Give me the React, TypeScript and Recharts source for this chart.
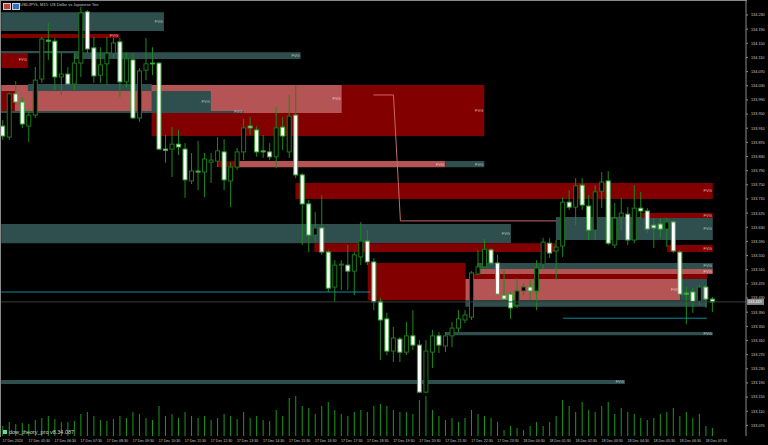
import React from 'react';
import { ComposedChart, Bar, XAxis, YAxis, ReferenceArea, ReferenceLine } from 'recharts';

const opens = [133.916,133.885,134.007,133.984,133.916,133.947,134.049,134.159,134.156,134.055,134.063,134.035,134.094,134.239,134.137,134.060,134.092,134.122,134.154,134.041,134.103,133.939,134.074,134.094,134.094,133.851,133.851,133.865,133.851,133.761,133.789,133.786,133.814,133.817,133.843,133.761,133.800,133.843,133.916,133.905,133.846,133.843,133.829,133.913,133.843,133.947,133.778,133.696,133.608,133.628,133.560,133.461,133.523,133.523,133.506,133.546,133.591,133.532,133.421,133.371,133.280,133.314,133.277,133.323,133.297,133.164,133.277,133.323,133.294,133.323,133.345,133.368,133.376,133.498,133.518,133.566,133.529,133.438,133.441,133.410,133.450,133.461,133.450,133.526,133.585,133.563,133.577,133.701,133.687,133.749,133.690,133.622,133.732,133.761,133.580,133.659,133.667,133.594,133.684,133.676,133.636,133.639,133.625,133.645,133.560,133.444,133.447,133.421,133.461,133.427];
const highs = [133.933,134.010,134.043,133.998,133.961,134.083,134.168,134.207,134.165,134.125,134.083,134.122,134.253,134.244,134.168,134.139,134.168,134.165,134.165,134.125,134.122,134.080,134.165,134.139,134.097,133.891,133.913,133.905,133.868,133.840,133.874,133.840,133.840,133.885,133.879,133.814,133.854,133.936,133.942,133.916,133.891,133.868,133.970,133.942,134.004,134.032,133.783,133.707,133.673,133.721,133.566,133.537,133.537,133.580,133.560,133.645,133.622,133.543,133.430,133.388,133.348,133.320,133.362,133.396,133.311,133.311,133.340,133.334,133.334,133.362,133.396,133.396,133.506,133.566,133.597,133.571,133.552,133.509,133.447,133.486,133.472,133.481,133.537,133.600,133.600,133.594,133.715,133.735,133.769,133.769,133.721,133.749,133.786,133.789,133.699,133.713,133.687,133.749,133.730,133.684,133.656,133.656,133.656,133.650,133.566,133.461,133.458,133.467,133.467,133.433];
const lows = [133.877,133.877,133.976,133.911,133.871,133.939,134.038,134.103,134.018,134.004,134.032,134.018,134.055,134.122,134.038,134.038,134.032,134.108,133.998,134.024,133.936,133.928,134.046,134.060,133.848,133.812,133.772,133.834,133.713,133.752,133.735,133.715,133.755,133.800,133.735,133.687,133.792,133.820,133.891,133.829,133.826,133.820,133.797,133.848,133.826,133.769,133.580,133.560,133.588,133.552,133.447,133.419,133.453,133.453,133.438,133.523,133.523,133.396,133.255,133.269,133.249,133.249,133.269,133.283,133.161,133.161,133.232,133.274,133.277,133.291,133.334,133.359,133.368,133.495,133.515,133.523,133.438,133.424,133.371,133.402,133.438,133.424,133.396,133.509,133.543,133.481,133.546,133.679,133.636,133.679,133.594,133.594,133.684,133.580,133.571,133.622,133.580,133.585,133.656,133.614,133.571,133.600,133.574,133.557,133.438,133.356,133.388,133.410,133.402,133.390];
const closes = [133.888,134.007,133.984,133.922,133.947,134.046,134.162,134.156,134.055,134.063,134.035,134.094,134.236,134.134,134.058,134.089,134.122,134.151,134.041,134.106,133.939,134.072,134.092,134.092,133.851,133.847,133.865,133.857,133.764,133.789,133.786,133.823,133.820,133.846,133.764,133.800,133.843,133.911,133.911,133.843,133.843,133.829,133.911,133.888,133.944,133.778,133.696,133.608,133.628,133.560,133.458,133.523,133.526,133.506,133.552,133.591,133.532,133.419,133.368,133.280,133.317,133.277,133.323,133.297,133.164,133.280,133.323,133.297,133.323,133.345,133.371,133.382,133.501,133.518,133.568,133.529,133.441,133.427,133.402,133.450,133.461,133.450,133.515,133.588,133.557,133.574,133.701,133.687,133.747,133.693,133.622,133.730,133.758,133.585,133.656,133.670,133.594,133.684,133.676,133.625,133.628,133.625,133.645,133.563,133.441,133.441,133.421,133.461,133.427,133.419];
const volumes = [1000,1400,1200,1300,1200,1600,1800,2000,1700,1400,1400,1500,2200,2400,2000,1600,1500,1700,2000,1800,2400,2200,1800,1600,3000,2000,2200,1800,2400,2000,1800,2000,1600,1800,2200,2000,1700,2400,1800,2000,1600,1500,2600,2000,3800,4000,3000,2800,2200,3000,3400,2600,2200,2000,2400,2600,2400,3000,3200,3000,2600,2400,2400,2200,3600,4000,2600,2000,1600,1800,1400,1800,2600,2200,2000,1800,1400,600,1000,800,600,1000,1400,1000,1400,2000,3600,3000,2400,3400,2600,2400,3000,3400,2200,2800,2400,2200,1800,1600,1800,2200,2400,2800,2000,2400,1800,2200,1000,800];

const timeLabels = ['17 Dec 2024','17 Dec 05:30','17 Dec 06:30','17 Dec 07:30','17 Dec 08:30','17 Dec 09:30','17 Dec 10:30','17 Dec 11:30','17 Dec 12:30','17 Dec 13:30','17 Dec 14:30','17 Dec 15:30','17 Dec 16:30','17 Dec 17:30','17 Dec 18:30','17 Dec 19:30','17 Dec 20:30','17 Dec 21:30','17 Dec 22:30','17 Dec 23:30','18 Dec 00:30','18 Dec 01:30','18 Dec 02:30','18 Dec 03:30','18 Dec 04:30','18 Dec 05:30','18 Dec 06:30','18 Dec 07:30'];
const timeTickIndex = [1,5,9,13,17,21,25,29,33,37,41,45,49,53,57,61,65,69,73,77,81,85,89,93,97,101,105,109];
const priceTicks = [134.23,134.19,134.15,134.11,134.07,134.03,133.99,133.95,133.91,133.87,133.83,133.79,133.75,133.71,133.67,133.63,133.59,133.55,133.51,133.47,133.43,133.39,133.35,133.31,133.27,133.23,133.19,133.15,133.11,133.07];

// [fromIndex, toIndex, low, high, kind, showLabel]
const zones: [number, number, number, number, string, boolean][] = [
  [0.8, 25.8, 134.185, 134.238, 'teal', true],
  [0.8, 18.9, 134.165, 134.176, 'red', true],
  [0.8, 4.9, 134.080, 134.128, 'red', true],
  [0.8, 12.9, 134.122, 134.128, 'teal', false],
  [11.97, 46.8, 134.106, 134.125, 'teal', true],
  [23.9, 75.0, 133.888, 134.032, 'red', true],
  [0.8, 53.1, 133.953, 134.032, 'pink', true],
  [0.8, 2.9, 133.959, 134.015, 'red', false],
  [4.9, 23.9, 134.015, 134.035, 'teal', false],
  [23.9, 33.0, 133.956, 134.015, 'teal', true],
  [0.8, 38.0, 133.953, 133.959, 'teal', true],
  [34.0, 37.3, 133.800, 133.817, 'red', false],
  [37.3, 69.0, 133.800, 133.817, 'pink', true],
  [69.0, 75.0, 133.800, 133.817, 'teal', true],
  [46.0, 110.1, 133.710, 133.755, 'red', true],
  [0.8, 79.1, 133.585, 133.639, 'teal', true],
  [48.9, 86.0, 133.560, 133.585, 'red', false],
  [103.1, 110.1, 133.560, 133.580, 'red', true],
  [86.0, 110.1, 133.594, 133.659, 'teal', true],
  [99.1, 110.1, 133.656, 133.670, 'red', true],
  [57.1, 72.1, 133.424, 133.529, 'red', false],
  [73.9, 110.1, 133.512, 133.529, 'teal', true],
  [73.9, 110.1, 133.498, 133.512, 'pink', true],
  [72.9, 109.2, 133.484, 133.498, 'red', false],
  [72.1, 105.1, 133.424, 133.484, 'pink', true],
  [105.1, 109.2, 133.424, 133.484, 'teal', false],
  [72.1, 109.2, 133.405, 133.424, 'teal', false],
  [69.0, 110.1, 133.325, 133.334, 'teal', true],
  [0.8, 96.6, 133.187, 133.198, 'teal', true],
];

const tealLines: [number, number, number][] = [
  [0.8, 57.5, 133.447],
  [87.1, 109.2, 133.373],
];
const pathPoints: [number, number][] = [[57.98, 134.004], [61.05, 134.004], [62.12, 133.648], [86.04, 133.648]];
const lastPrice = 133.419;

const data = opens.map((o, k) => ({ i: k + 1, o, h: highs[k], l: lows[k], c: closes[k], v: volumes[k] }));

const COLORS: Record<string, string> = { teal: '#2f4f4f', red: '#820000', pink: '#b45454' };
const LABEL_COLORS: Record<string, string> = { teal: '#b8c4c4', red: '#eeb0b0', pink: '#f0c8c8' };
const X_DOMAIN: [number, number] = [0.77, 115.2];
const FONT = '"Liberation Sans", Arial, sans-serif';

const Candle = (props: any) => {
  const { x, y, width, height, payload } = props;
  const top0 = Math.min(y, y + height);
  const hh = Math.abs(height);
  const { o, h, l, c } = payload;
  const span = h - l || 1e-9;
  const toY = (v: number) => top0 + ((h - v) / span) * hh;
  const cx = x + width / 2;
  const bt = toY(Math.max(o, c));
  const bb = toY(Math.min(o, c));
  const bear = c < o;
  return (
    <g>
      <line x1={cx} x2={cx} y1={top0} y2={top0 + hh} stroke="#1c8a1c" strokeWidth={1} />
      <rect x={x + 0.5} y={bt} width={width - 1} height={Math.max(bb - bt, 0.8)} fill={bear ? '#ffffff' : '#000000'} stroke={bear ? '#3aa83a' : '#1a7a1a'} strokeWidth={1} />
    </g>
  );
};

const TimeTick = (props: any) => {
  const { x, payload } = props;
  const k = timeTickIndex.indexOf(payload.value);
  return (
    <text x={x} y={442.3} fontSize={3.6} fill="#c8c8c8" textAnchor="start" fontFamily={FONT}>{timeLabels[k]}</text>
  );
};

const PriceTick = (props: any) => {
  const { x, y, payload } = props;
  return (
    <text x={x + 1} y={y + 1.4} fontSize={3.8} fill="#c8c8c8" textAnchor="start" fontFamily={FONT}>{Number(payload.value).toFixed(3)}</text>
  );
};

const PriceTag = (props: any) => {
  const vb = props.viewBox || {};
  const x = (vb.x || 0) + (vb.width || 0);
  const y = vb.y || 0;
  return (
    <g>
      <rect x={x + 1} y={y - 3} width={17} height={6} fill="#8a8a8a" />
      <text x={x + 2} y={y + 1.4} fontSize={3.8} fill="#ffffff" fontFamily={FONT}>{lastPrice.toFixed(3)}</text>
    </g>
  );
};

export default function App() {
  return (
    <div style={{ position: 'absolute', left: 0, top: 0, width: 768, height: 445, background: '#000', overflow: 'hidden' }}>
      <ComposedChart width={768} height={445} data={data} margin={{ top: 1, right: 0, bottom: 0, left: 1 }} style={{ background: '#000' }}>
        <XAxis xAxisId="x" type="number" dataKey="i" domain={X_DOMAIN} allowDataOverflow ticks={timeTickIndex} tick={<TimeTick />} height={9} interval={0}
          axisLine={{ stroke: '#8a8a8a' }} tickLine={{ stroke: '#8a8a8a' }} tickSize={2} />
        <XAxis xAxisId="v" type="number" dataKey="i" domain={X_DOMAIN} allowDataOverflow hide />
        <YAxis yAxisId="p" orientation="right" domain={[133.040, 134.2696]} allowDataOverflow ticks={priceTicks} tick={<PriceTick />} width={22} interval={0}
          axisLine={{ stroke: '#8a8a8a' }} tickLine={{ stroke: '#8a8a8a' }} tickSize={2} />
        <YAxis yAxisId="v" domain={[0, 43500]} allowDataOverflow hide />
        {zones.map((z, k) => (
          <ReferenceArea key={'z' + k} xAxisId="x" yAxisId="p" x1={z[0]} x2={z[1]} y1={z[2]} y2={z[3]} fill={COLORS[z[4]]} fillOpacity={1} stroke="none"
            ifOverflow="hidden"
            label={z[5] ? { value: 'FVG', position: 'insideRight', offset: 1, fill: LABEL_COLORS[z[4]], fontSize: 4, fontFamily: FONT } : undefined} />
        ))}
        {tealLines.map((t, k) => (
          <ReferenceLine key={'t' + k} xAxisId="x" yAxisId="p" segment={[{ x: t[0], y: t[2] }, { x: t[1], y: t[2] }]} stroke="#118c96" strokeWidth={1} ifOverflow="hidden" />
        ))}
        {pathPoints.slice(1).map((p, k) => (
          <ReferenceLine key={'p' + k} xAxisId="x" yAxisId="p" segment={[{ x: pathPoints[k][0], y: pathPoints[k][1] }, { x: p[0], y: p[1] }]} stroke="#c46a6a" strokeWidth={1} />
        ))}
        <ReferenceLine xAxisId="x" yAxisId="p" y={lastPrice} stroke="#3c3c3c" strokeWidth={1} label={<PriceTag />} />
        <Bar xAxisId="v" yAxisId="v" dataKey="v" barSize={1} fill="#1a9a1a" isAnimationActive={false} />
        <Bar xAxisId="x" yAxisId="p" dataKey={(d: any) => [d.l, d.h]} barSize={5} shape={(p: any) => <Candle {...p} />} isAnimationActive={false} />
      </ComposedChart>
      <div style={{ position: 'absolute', left: 0, top: 0, width: 746, height: 436, borderTop: '1px solid #8a8a8a', borderLeft: '1px solid #8a8a8a', pointerEvents: 'none' }} />
      <div style={{ position: 'absolute', left: 3, top: 3, width: 6, height: 5, background: '#c04040', border: '0.5px solid #d0d0d0' }} />
      <div style={{ position: 'absolute', left: 12, top: 3, width: 6, height: 5, background: '#3070c0', border: '0.5px solid #d0d0d0' }} />
      <span style={{ position: 'absolute', left: 20, top: 2, fontSize: 4, lineHeight: '6px', color: '#c8c8c8', fontFamily: FONT, whiteSpace: 'nowrap' }}>USDJPYk, M15:  US Dollar vs Japanese Yen</span>
      <div style={{ position: 'absolute', left: 3, top: 430, width: 4, height: 4, background: '#60d8b0' }} />
      <span style={{ position: 'absolute', left: 9, top: 428, fontSize: 5.5, lineHeight: '8px', color: '#d0d0d0', fontFamily: FONT, whiteSpace: 'nowrap' }}>dow_theory_pro v8.34.087</span>
    </div>
  );
}
